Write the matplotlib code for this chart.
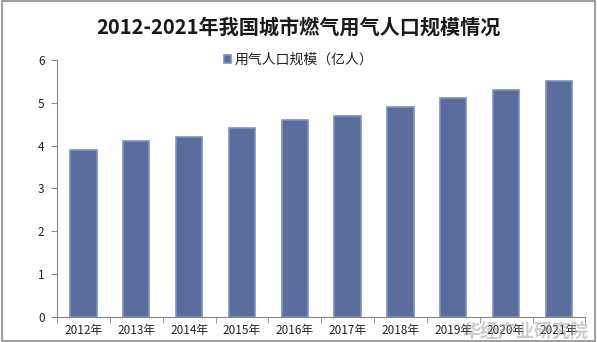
import numpy as np
import matplotlib.pyplot as plt
from matplotlib.patches import Rectangle

plt.rcParams['font.family'] = ['Noto Sans CJK SC', 'DejaVu Sans']

years = ['2012年', '2013年', '2014年', '2015年', '2016年',
         '2017年', '2018年', '2019年', '2020年', '2021年']
population = [3.9, 4.1, 4.2, 4.4, 4.6, 4.7, 4.9, 5.1, 5.3, 5.5]
series_name = '用气人口规模（亿人）'

fig = plt.figure(figsize=(5.97, 3.42), dpi=100)
fig.patches.append(Rectangle((0.004, 0.004), 0.992, 0.992, transform=fig.transFigure,
                             fill=False, edgecolor='#8c8c8c', linewidth=1.2))

ax = fig.add_axes([0.0955, 0.073, 0.885, 0.752])
x = np.arange(len(years))
ax.bar(x, population, width=0.5, color='#5a6d9e', edgecolor='#8191bd',
       linewidth=1.2, label=series_name)

ax.set_ylim(0, 6)
ax.set_xlim(-0.5, len(years) - 0.5)
ax.set_yticks(range(7))
ax.set_xticks(x)
ax.set_xticklabels(years, fontsize=8.5, color='#222222')
ax.set_xticks(np.arange(-0.5, len(years)), minor=True)
ax.tick_params(axis='x', which='major', length=0, pad=5)
ax.tick_params(axis='x', which='minor', length=4, color='#888888')
ax.tick_params(axis='y', length=4, color='#888888', labelsize=8.5, labelcolor='#222222', pad=5)
for s in ['top', 'right']:
    ax.spines[s].set_visible(False)
for s in ['left', 'bottom']:
    ax.spines[s].set_color('#888888')
    ax.spines[s].set_linewidth(0.8)

leg = fig.legend(loc='center', bbox_to_anchor=(0.5, 0.825), frameon=False,
                 fontsize=10, handlelength=0.5, handleheight=0.5, handletextpad=0.3)
for t in leg.get_texts():
    t.set_color('#222222')

fig.text(0.5, 0.92, '2012-2021年我国城市燃气用气人口规模情况', ha='center', va='center',
         fontsize=14.5, fontweight='bold', color='#1a1a1a')

# faint publisher mark in the lower right corner
fig.text(0.985, 0.028, '华经产业研究院', ha='right', va='center', fontsize=13,
         color='#9a9a9a', alpha=0.5, fontweight='bold')

fig.savefig('out.png', dpi=100)
